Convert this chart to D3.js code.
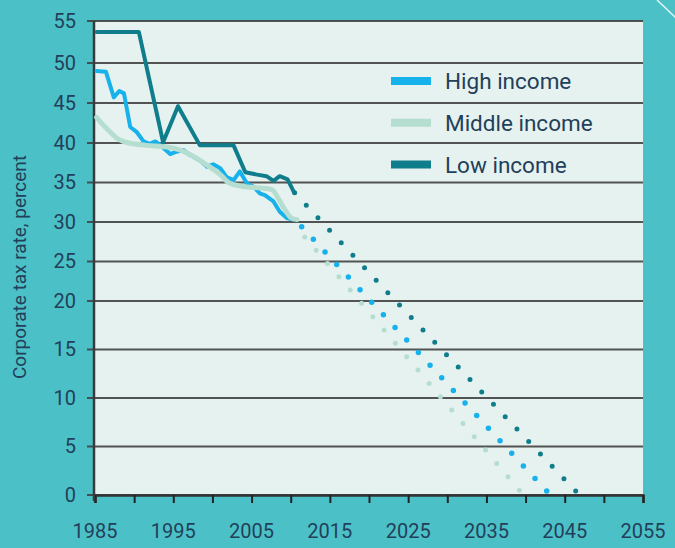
<!DOCTYPE html>
<html>
<head>
<meta charset="utf-8">
<script src="https://cdn.jsdelivr.net/npm/d3@7"></script>
<style>
  html, body { margin: 0; padding: 0; background: #4CC0C7; }
  svg { display: block; }
  text { font-family: Roboto, "Noto Sans", sans-serif; fill: #22405A; }
</style>
</head>
<body>
<svg id="chart" width="675" height="548"></svg>
<script>
// ---- data ----
const seriesNames = ["High income", "Middle income", "Low income"];

const highYears  = [1985.2, 1986.4, 1987.4, 1988.1, 1988.7, 1989.5, 1990.3, 1991.2, 1992.0, 1992.7, 1993.5, 1994.6, 1995.4, 1996.3, 1997.1, 1998.4, 1999.3, 2000.1, 2001.0, 2001.8, 2002.7, 2003.5, 2004.4, 2005.2, 2006.1, 2006.7, 2007.8, 2008.6, 2009.5, 2010.3];
const highValues = [49.0, 48.9, 45.7, 46.5, 46.2, 42.0, 41.4, 40.2, 39.9, 40.2, 39.6, 38.6, 38.9, 39.1, 38.5, 37.8, 37.0, 37.3, 36.8, 35.7, 35.3, 36.4, 34.9, 34.5, 33.6, 33.4, 32.6, 31.3, 30.5, 30.3];

const middleYears  = [1985.2, 1986.0, 1986.9, 1987.8, 1988.6, 1989.9, 1991.6, 1994.2, 1995.9, 1997.6, 1999.3, 2001.0, 2002.2, 2003.9, 2006.1, 2007.6, 2008.4, 2009.3, 2010.1, 2010.8];
const middleValues = [43.2, 42.3, 41.4, 40.6, 40.2, 39.9, 39.7, 39.5, 39.1, 38.3, 37.2, 36.0, 34.9, 34.5, 34.3, 34.1, 33.0, 31.5, 30.5, 30.3];

const lowYears  = [1985.2, 1990.6, 1993.7, 1995.6, 1998.4, 2002.7, 2004.2, 2005.7, 2006.9, 2007.8, 2008.6, 2009.6, 2010.4];
const lowValues = [53.7, 53.7, 40.1, 44.6, 39.7, 39.7, 36.3, 36.0, 35.8, 35.2, 35.8, 35.4, 33.8];

// projected (dotted) trends
const highProjYears    = [2011.4, 2020.2, 2042.7];
const highProjValues   = [29.4, 20, 0.4];
const middleProjYears  = [2011.8, 2018.8, 2039.2];
const middleProjValues = [28.1, 20, 0.5];
const lowProjYears     = [2010.5, 2023.4, 2046.4];
const lowProjValues    = [33.7, 20, 0.4];

const xTickValues  = [1985, 1990, 1995, 2000, 2005, 2010, 2015, 2020, 2025, 2030, 2035, 2040, 2045, 2050, 2055];
const xLabelValues = [1985, 1995, 2005, 2015, 2025, 2035, 2045, 2055];
const yTickValues  = [0, 5, 10, 15, 20, 25, 30, 35, 40, 45, 50, 55];
const yTitle = "Corporate tax rate, percent";

// ---- layout ----
const colors = { high: "#17B1EC", middle: "#B5DED1", low: "#107D8C" };
const svg = d3.select("#chart");
const pLeft = 95, pRight = 643, pTop = 21, pBottom = 495;

const x = d3.scaleLinear().domain([1985, 2055]).range([pLeft, pRight]);
const y = d3.scaleLinear().domain([0, 20, 40, 50, 55]).range([pBottom, 301, 143, 63, pTop]);

// decorative corner line
svg.append("line").attr("x1", 657).attr("y1", 0).attr("x2", 676).attr("y2", 18)
  .attr("stroke", "#ffffff").attr("stroke-width", 1.5).attr("opacity", 0.85);

// plot background
svg.append("rect").attr("x", pLeft).attr("y", pTop).attr("width", pRight - pLeft).attr("height", pBottom - pTop)
  .attr("fill", "#E6F2EF");

// y axis labels
const yAxis = d3.axisLeft(y).tickValues(yTickValues).tickSize(0).tickFormat(d3.format("d")).tickPadding(19);
const gy = svg.append("g").attr("transform", `translate(${pLeft},0)`).call(yAxis);
gy.select(".domain").remove();
gy.selectAll("text").style("font-size", "20px").attr("fill", "#22405A").style("font-family", "Roboto, sans-serif");

// grid lines
svg.append("g").selectAll("line").data(yTickValues).join("line")
  .attr("x1", pLeft - 8).attr("x2", pRight)
  .attr("y1", d => y(d)).attr("y2", d => y(d))
  .attr("stroke", "#434343").attr("stroke-width", 2.2).attr("opacity", 0.9);

// x axis
const xAxis = d3.axisBottom(x).tickValues(xTickValues).tickSize(8).tickFormat("");
const gx = svg.append("g").attr("transform", `translate(0,${pBottom})`).call(xAxis);
gx.select(".domain").attr("stroke", "#333").attr("stroke-width", 2.5);
gx.selectAll(".tick line").attr("stroke", "#222").attr("stroke-width", 2);

svg.append("g").selectAll("text").data(xLabelValues).join("text")
  .attr("x", d => x(d)).attr("y", 538)
  .attr("text-anchor", "middle").style("font-size", "20px")
  .text(d => d);

// left vertical axis line
svg.append("line").attr("x1", pLeft - 1).attr("x2", pLeft - 1).attr("y1", pTop).attr("y2", pBottom + 6)
  .attr("stroke", "#3a3a3a").attr("stroke-width", 2.5);

// y title
svg.append("text")
  .attr("transform", `translate(26,267) rotate(-90)`)
  .attr("text-anchor", "middle").style("font-size", "19px")
  .text(yTitle);

// lines
const zip = (xs, ys) => xs.map((d, i) => [d, ys[i]]);
const line = d3.line().x(d => x(d[0])).y(d => y(d[1]));
const smooth = d3.line().x(d => x(d[0])).y(d => y(d[1])).curve(d3.curveMonotoneX);

// projections (dotted), dots spread evenly so one sits at each end
function dotted(data, color, width, target) {
  const p = svg.append("path").datum(data).attr("d", line)
    .attr("fill", "none").attr("stroke", color).attr("stroke-width", width)
    .attr("stroke-linecap", "round");
  const len = p.node().getTotalLength();
  const n = Math.max(1, Math.round(len / target));
  p.attr("stroke-dasharray", `0,${len / n}`);
}
dotted(zip(middleProjYears, middleProjValues), colors.middle, 5, 17.5);
dotted(zip(highProjYears, highProjValues), colors.high, 5.5, 17.4);
dotted(zip(lowProjYears, lowProjValues), colors.low, 5, 17.1);

svg.append("path").datum(zip(highYears, highValues)).attr("d", line)
  .attr("fill", "none").attr("stroke", colors.high).attr("stroke-width", 4)
  .attr("stroke-linejoin", "round").attr("stroke-linecap", "round");
svg.append("path").datum(zip(middleYears, middleValues)).attr("d", smooth)
  .attr("fill", "none").attr("stroke", colors.middle).attr("stroke-width", 5)
  .attr("stroke-linejoin", "round").attr("stroke-linecap", "round");
svg.append("path").datum(zip(lowYears, lowValues)).attr("d", line)
  .attr("fill", "none").attr("stroke", colors.low).attr("stroke-width", 4)
  .attr("stroke-linejoin", "round").attr("stroke-linecap", "round");

// legend
const legendColors = [colors.high, colors.middle, colors.low];
const lg = svg.append("g");
seriesNames.forEach((name, i) => {
  const cy = 81 + i * 41.8;
  lg.append("line").attr("x1", 391).attr("x2", 431).attr("y1", cy).attr("y2", cy)
    .attr("stroke", legendColors[i]).attr("stroke-width", 8);
  lg.append("text").attr("x", 445).attr("y", cy + 8).style("font-size", "22.5px").text(name);
});
</script>
</body>
</html>
